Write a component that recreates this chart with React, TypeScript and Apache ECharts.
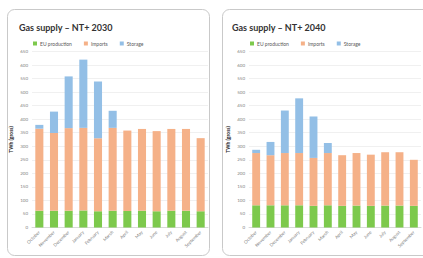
import React, { useEffect, useRef } from "react";
import * as echarts from "echarts";

const months = ["October", "November", "December", "January", "February", "March", "April", "May", "June", "July", "August", "September"];

// NT+ 2030 (TWh gross)
const eu2030 = [62, 62, 62, 63, 60, 62, 61, 62, 60, 62, 62, 60];
const imports2030 = [303, 287, 305, 305, 270, 306, 297, 302, 296, 302, 302, 270];
const storage2030 = [14, 79, 191, 252, 209, 63, 0, 0, 0, 0, 0, 0];

// NT+ 2040 (TWh gross)
const eu2040 = [82, 82, 82, 82, 80, 82, 80, 81, 80, 81, 81, 80];
const imports2040 = [193, 185, 193, 193, 177, 193, 187, 194, 189, 197, 197, 170];
const storage2040 = [12, 49, 157, 202, 153, 37, 0, 0, 0, 0, 0, 0];

const yMax = 650;
const yStep = 50;

const GREEN = "#7dc94c";
const ORANGE = "#f5b188";
const BLUE = "#93bfe6";
const FONT = "Lato, 'Liberation Sans', sans-serif";

export default function App() {
  const ref = useRef<HTMLDivElement>(null);
  useEffect(() => {
    document.body.style.margin = "0";
    const chart = echarts.init(ref.current!, null, { renderer: "svg" });
    const grids = [
      { left: 32, top: 51.5, width: 176, height: 176 },
      { left: 249, top: 51.5, width: 172, height: 176 },
    ];
    const mkX = (i: number) => ({
      type: "category",
      gridIndex: i,
      data: months,
      axisLine: { lineStyle: { color: "#d9d9d9" } },
      axisTick: { show: false },
      axisLabel: { rotate: 45, fontSize: 4.5, color: "#7f7f7f", margin: 4, interval: 0, fontFamily: FONT },
    });
    const mkY = (i: number) => ({
      type: "value",
      gridIndex: i,
      min: 0,
      max: yMax,
      interval: yStep,
      name: "TWh (gross)",
      nameLocation: "middle",
      nameGap: 19,
      nameTextStyle: { fontSize: 5, fontWeight: "bold", color: "#262626", fontFamily: FONT },
      axisLine: { show: false },
      axisTick: { show: false },
      axisLabel: { fontSize: 4.5, color: "#7f7f7f", margin: 4, fontFamily: FONT },
      splitLine: { lineStyle: { color: "#e6e6e6", width: 0.6 } },
    });
    const mkSeries = (i: number, eu: number[], imp: number[], sto: number[]) => [
      { name: "EU production", type: "bar", stack: "s" + i, xAxisIndex: i, yAxisIndex: i, data: eu, itemStyle: { color: GREEN }, barWidth: "55%" },
      { name: "Imports", type: "bar", stack: "s" + i, xAxisIndex: i, yAxisIndex: i, data: imp, itemStyle: { color: ORANGE }, barWidth: "55%" },
      { name: "Storage", type: "bar", stack: "s" + i, xAxisIndex: i, yAxisIndex: i, data: sto, itemStyle: { color: BLUE }, barWidth: "55%" },
    ];
    const mkLegend = (left: number) => ({
      left,
      top: 36,
      itemWidth: 4,
      itemHeight: 4,
      itemGap: 12,
      icon: "rect",
      textStyle: { fontSize: 5, color: "#595959", fontFamily: FONT, padding: [0, 0, 0, -2] },
      data: ["EU production", "Imports", "Storage"],
      selectedMode: false,
    });
    chart.setOption({
      animation: false,
      backgroundColor: "#ffffff",
      graphic: [
        { type: "rect", shape: { x: 7.5, y: 9.5, width: 202, height: 246, r: 7 }, style: { fill: "none", stroke: "#c9c9c9", lineWidth: 1 } },
        { type: "rect", shape: { x: 222.5, y: 9.5, width: 212, height: 246, r: 7 }, style: { fill: "none", stroke: "#c9c9c9", lineWidth: 1 } },
      ],
      title: [
        { text: "Gas supply – NT+ 2030", left: 14, top: 18, textStyle: { fontSize: 9, fontWeight: "bold", color: "#333333", fontFamily: FONT } },
        { text: "Gas supply – NT+ 2040", left: 227, top: 18, textStyle: { fontSize: 9, fontWeight: "bold", color: "#333333", fontFamily: FONT } },
      ],
      legend: [mkLegend(28), mkLegend(245)],
      grid: grids,
      xAxis: [mkX(0), mkX(1)],
      yAxis: [mkY(0), mkY(1)],
      series: [...mkSeries(0, eu2030, imports2030, storage2030), ...mkSeries(1, eu2040, imports2040, storage2040)],
    });
    return () => chart.dispose();
  }, []);
  return <div ref={ref} style={{ width: 423, height: 258, position: "absolute", left: 0, top: 0 }} />;
}
